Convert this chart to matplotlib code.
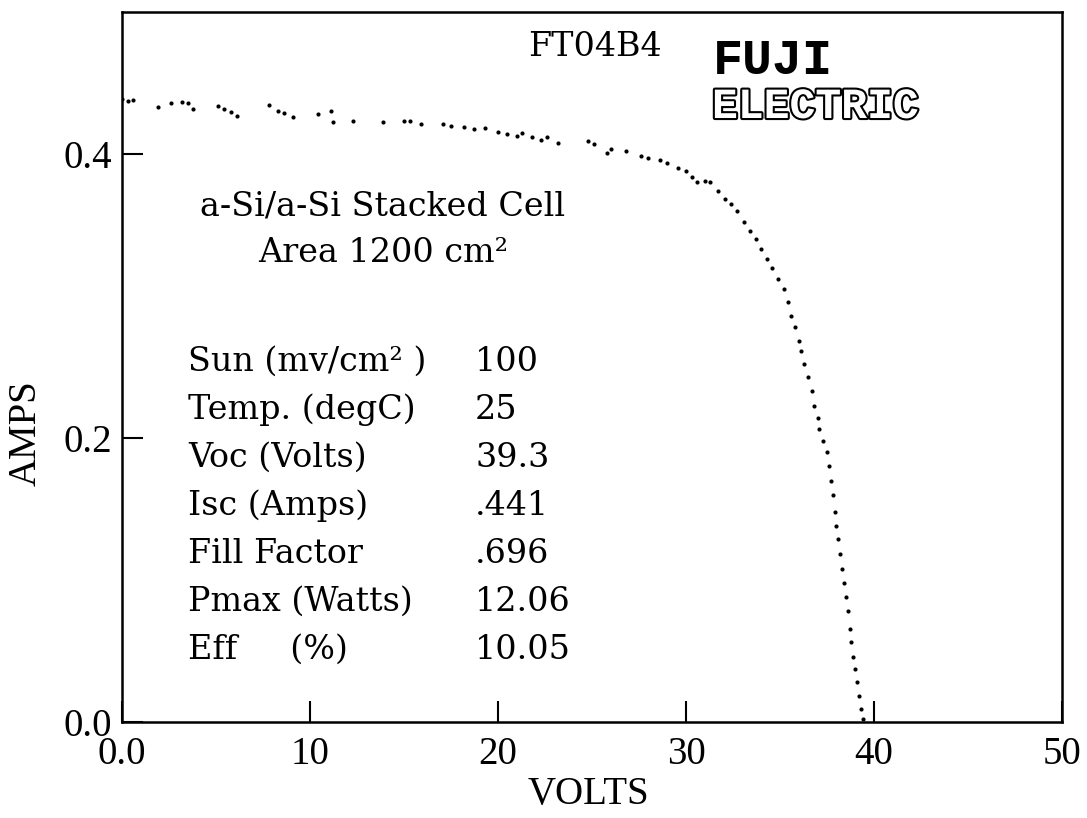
import matplotlib
matplotlib.use("Agg")
import matplotlib.pyplot as plt
import matplotlib.patheffects as pe

# I-V curve (volts, amps)
volts = [0.0, 0.3, 0.6, 1.9, 2.6, 3.2, 3.5, 3.8, 5.1, 5.4, 5.8, 6.1, 7.8, 8.3,
         8.6, 9.1, 10.4, 11.1, 11.2, 12.3, 13.9, 15.0, 15.3, 15.9, 17.1, 17.5,
         18.2, 18.7, 19.3, 20.0, 20.5, 21.0, 21.3, 21.8, 22.3, 22.6, 23.2,
         24.8, 25.1, 25.8, 26.0, 26.8, 27.6, 28.0, 28.6, 29.0, 29.6, 30.0,
         30.3, 30.6, 31.0, 31.3, 31.7, 32.1, 32.4, 32.7, 33.1, 33.4, 33.7,
         34.0, 34.3, 34.6, 34.9, 35.2, 35.4, 35.6, 35.8, 36.0, 36.1, 36.3,
         36.5, 36.7, 36.8, 37.0, 37.1, 37.3, 37.5, 37.6, 37.7, 37.8, 37.9,
         38.0, 38.1, 38.2, 38.3, 38.4, 38.5, 38.6, 38.7, 38.8, 38.9, 39.0,
         39.1, 39.2, 39.3, 39.4]
amps = [0.439, 0.437, 0.438, 0.433, 0.436, 0.4366, 0.436, 0.432, 0.434, 0.432,
        0.4296, 0.427, 0.4345, 0.430, 0.429, 0.426, 0.428, 0.430, 0.4225,
        0.423, 0.4225, 0.423, 0.423, 0.421, 0.421, 0.420, 0.419, 0.4176,
        0.418, 0.4155, 0.414, 0.4127, 0.415, 0.412, 0.410, 0.412, 0.408,
        0.409, 0.407, 0.401, 0.4035, 0.402, 0.3986, 0.397, 0.396, 0.394,
        0.390, 0.388, 0.384, 0.380, 0.381, 0.380, 0.374, 0.368, 0.365, 0.360,
        0.352, 0.346, 0.340, 0.333, 0.326, 0.320, 0.312, 0.305, 0.296, 0.286,
        0.278, 0.268, 0.261, 0.252, 0.243, 0.233, 0.2225, 0.214, 0.206,
        0.198, 0.190, 0.180, 0.170, 0.160, 0.148, 0.138, 0.129, 0.118, 0.108,
        0.098, 0.088, 0.078, 0.0655, 0.056, 0.046, 0.037, 0.028, 0.018,
        0.009, 0.002]

xticks = [0, 10, 20, 30, 40, 50]
xtick_labels = ["0.0", "10", "20", "30", "40", "50"]
yticks = [0.0, 0.2, 0.4]
ytick_labels = ["0.0", "0.2", "0.4"]

cell_name = "FT04B4"
cell_title = ["a-Si/a-Si Stacked Cell", "Area 1200 cm²"]
param_names = ["Sun (mv/cm² )", "Temp. (degC)", "Voc (Volts)", "Isc (Amps)",
               "Fill Factor", "Pmax (Watts)", "Eff     (%)"]
param_values = ["100", "25", "39.3", ".441", ".696", "12.06", "10.05"]

W, H = 1087, 818
fig = plt.figure(figsize=(W / 100, H / 100), dpi=100)
ax = fig.add_axes([122 / W, 1 - 722 / H, 940 / W, 710 / H])

ax.plot(volts, amps, 'o', color='black', markersize=3, markeredgewidth=0)

ax.set_xlim(0, 50)
ax.set_ylim(0, 0.5)
for s in ax.spines.values():
    s.set_linewidth(1.8)

tickfont = dict(family='Liberation Serif', size=28)
ax.set_xticks(xticks)
ax.set_xticklabels(xtick_labels, **tickfont)
ax.set_yticks(yticks)
ax.set_yticklabels(ytick_labels, **tickfont)
ax.tick_params(axis='x', direction='in', length=15, width=1.5, pad=10)
ax.tick_params(axis='y', direction='in', length=15, width=1.5, pad=7)

ax.set_xlabel("VOLTS", family='Liberation Serif', size=28)
ax.xaxis.set_label_coords(0.496, -0.076)
ax.set_ylabel("AMPS", family='Liberation Serif', size=28)
ax.yaxis.set_label_coords(-0.082, 0.407)

def px(x, y):
    # pixel position in the picture -> axes fraction
    return (x - 122) / 940, (722 - y) / 710

serif = dict(family='DejaVu Serif', size=24, color='black',
             transform=ax.transAxes)

ax.text(*px(528, 47), cell_name, ha='left', va='center', **serif)
ax.text(*px(383, 207), cell_title[0], ha='center', va='center', **serif)
ax.text(*px(383, 253), cell_title[1], ha='center', va='center', **serif)

for i, (name, val) in enumerate(zip(param_names, param_values)):
    y = 362 + 48 * i
    ax.text(*px(188, y), name, ha='left', va='center', **serif)
    ax.text(*px(475, y), val, ha='left', va='center', **serif)

# logo
ax.text(*px(713, 61), "FUJI", ha='left', va='center', transform=ax.transAxes,
        family='Liberation Mono', weight='bold', size=36, color='black')
ax.text(*px(712, 107), "ELECTRIC", ha='left', va='center',
        transform=ax.transAxes, family='Liberation Mono', weight='bold',
        size=31, color='white',
        path_effects=[pe.withStroke(linewidth=3, foreground='black')])

fig.savefig("out.png", dpi=100)
